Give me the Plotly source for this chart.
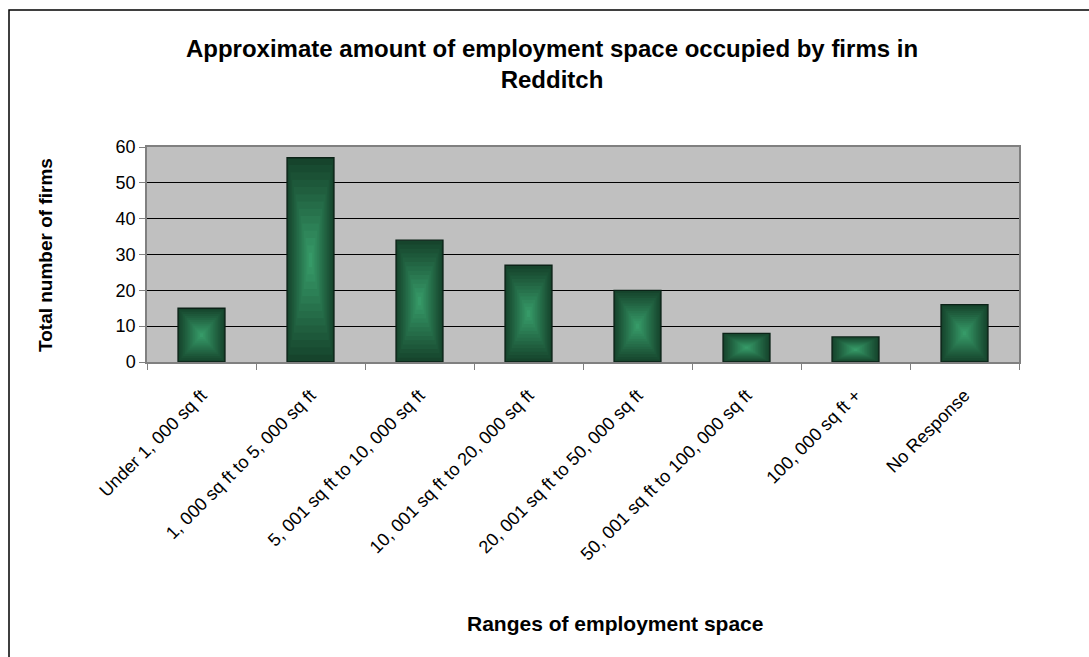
import plotly.graph_objects as go

# data
categories = [
    "Under 1, 000 sq ft",
    "1, 000 sq ft to 5, 000 sq ft",
    "5, 001 sq ft to 10, 000 sq ft",
    "10, 001 sq ft to 20, 000 sq ft",
    "20, 001 sq ft to 50, 000 sq ft",
    "50, 001 sq ft to 100, 000 sq ft",
    "100, 000 sq ft +",
    "No Response",
]
firms = [15, 57, 34, 27, 20, 8, 7, 16]
y_ticks = [0, 10, 20, 30, 40, 50, 60]

title_text = "Approximate amount of employment space occupied by firms in<br>Redditch"
x_title = "Ranges of employment space"
y_title = "Total number of firms"

FONT = "Liberation Sans, Arial, sans-serif"
BAR_W = 0.43

# plot area in pixels (used to place things outside the axes)
W, H = 1089, 657
L, R, T, B = 147, 70, 147, 295
pw, ph = W - L - R, H - T - B


def px_x(x):
    return (x - L) / pw


def px_y(y):
    return (H - B - y) / ph


fig = go.Figure()

# fake a "from centre" rectangle gradient by stacking shrinking bars
edge = (22, 68, 44)
centre = (54, 154, 104)
steps = 14
for i in range(steps):
    s = 1 - i / steps
    t = i / (steps - 1)
    c = tuple(round(edge[k] + (centre[k] - edge[k]) * t) for k in range(3))
    fig.add_trace(go.Bar(
        x=categories,
        y=[v * s for v in firms],
        base=[v * (1 - s) / 2 for v in firms],
        width=BAR_W * s,
        marker=dict(
            color="rgb(%d,%d,%d)" % c,
            line=dict(color="#0b2217" if i == 0 else "rgba(0,0,0,0)", width=1.4 if i == 0 else 0),
        ),
        showlegend=False,
        hoverinfo="skip" if i else None,
    ))

fig.update_layout(
    width=W,
    height=H,
    barmode="overlay",
    paper_bgcolor="white",
    plot_bgcolor="#c0c0c0",
    margin=dict(l=L, r=R, t=T, b=B),
    font=dict(family=FONT, color="black"),
    title=dict(
        text="<b>%s</b>" % title_text,
        font=dict(size=24, family=FONT, color="black"),
        x=552 / W,
        xref="container",
        xanchor="center",
        y=1 - 57 / H,
        yref="container",
        yanchor="middle",
    ),
)

fig.update_xaxes(
    tickangle=-45,
    tickfont=dict(size=18, family=FONT, color="black"),
    ticklabelstandoff=14,
    showline=True,
    linecolor="#808080",
    linewidth=1.5,
    mirror=True,
    ticks="outside",
    tickson="boundaries",
    ticklen=6,
    tickcolor="#808080",
    showgrid=False,
)
fig.update_yaxes(
    range=[0, 60],
    tickvals=y_ticks,
    tickfont=dict(size=18, family=FONT, color="black"),
    showline=True,
    linecolor="#808080",
    linewidth=1.5,
    mirror=True,
    ticks="outside",
    ticklen=6,
    tickcolor="#808080",
    showgrid=True,
    gridcolor="black",
    gridwidth=1,
    zeroline=False,
)

fig.add_annotation(
    text="<b>%s</b>" % y_title, textangle=-90,
    x=px_x(45), y=px_y(255), xref="paper", yref="paper",
    xanchor="center", yanchor="middle",
    showarrow=False, font=dict(size=19, family=FONT, color="black"),
)
fig.add_annotation(
    text="<b>%s</b>" % x_title,
    x=px_x(615), y=px_y(623), xref="paper", yref="paper",
    xanchor="center", yanchor="middle",
    showarrow=False, font=dict(size=21, family=FONT, color="black"),
)

# outer chart border (runs off the right and bottom of the picture)
fig.add_shape(
    type="rect", xref="paper", yref="paper",
    x0=px_x(9), x1=px_x(1200), y0=px_y(800), y1=px_y(10),
    line=dict(color="black", width=1.5), fillcolor="rgba(0,0,0,0)", layer="below",
)

# the page body has an 8px margin by default; drop it so pixels line up
fig.write_html(
    "out.html",
    config={"displayModeBar": False},
    post_script="document.body.style.margin='0';",
)
